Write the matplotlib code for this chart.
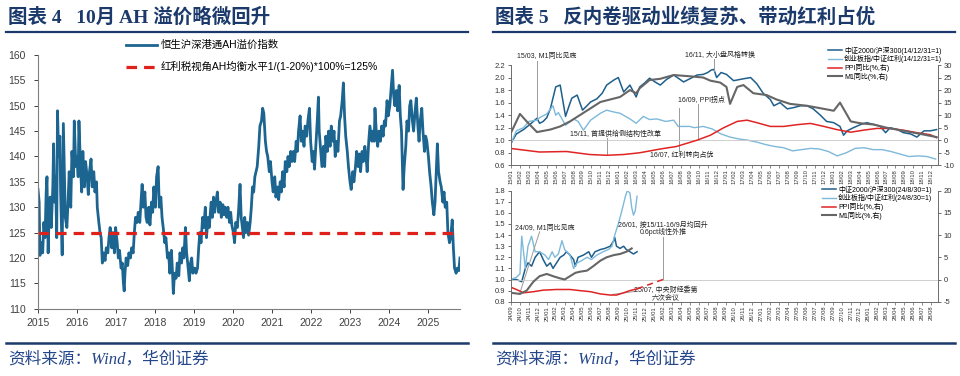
import matplotlib
matplotlib.use("Agg")
import matplotlib.pyplot as plt
from matplotlib.lines import Line2D

plt.rcParams['font.family'] = ['Liberation Sans', 'Noto Sans CJK SC']
plt.rcParams['axes.unicode_minus'] = False

# ---------------------------------------------------------------------------
# Data
# ---------------------------------------------------------------------------
# Figure 4: Hang Seng AH premium index (decimal year, value)
ah_t = [2015.00, 2015.03, 2015.05, 2015.09, 2015.12, 2015.15, 2015.18, 2015.21, 2015.23, 2015.26,
        2015.28, 2015.31, 2015.34, 2015.38, 2015.40, 2015.43, 2015.45, 2015.48, 2015.50, 2015.53,
        2015.56, 2015.58, 2015.61, 2015.62, 2015.65, 2015.68, 2015.70, 2015.74, 2015.77, 2015.80,
        2015.84, 2015.87, 2015.91, 2015.93, 2015.97, 2016.00, 2016.03, 2016.05, 2016.09, 2016.12,
        2016.15, 2016.19, 2016.22, 2016.26, 2016.29, 2016.32, 2016.36, 2016.39, 2016.43, 2016.46,
        2016.50, 2016.52, 2016.56, 2016.59, 2016.62, 2016.65, 2016.68, 2016.72, 2016.75, 2016.79,
        2016.82, 2016.85, 2016.89, 2016.92, 2016.96, 2016.99, 2017.03, 2017.06, 2017.09, 2017.13,
        2017.16, 2017.19, 2017.21, 2017.23, 2017.26, 2017.30, 2017.33, 2017.37, 2017.40, 2017.44,
        2017.47, 2017.50, 2017.54, 2017.57, 2017.61, 2017.64, 2017.67, 2017.70, 2017.74, 2017.77,
        2017.80, 2017.84, 2017.87, 2017.91, 2017.94, 2017.97, 2018.01, 2018.04, 2018.08, 2018.11,
        2018.15, 2018.18, 2018.21, 2018.25, 2018.28, 2018.32, 2018.35, 2018.38, 2018.42, 2018.45,
        2018.47, 2018.50, 2018.54, 2018.57, 2018.61, 2018.64, 2018.68, 2018.71, 2018.74, 2018.78,
        2018.81, 2018.85, 2018.88, 2018.91, 2018.94, 2018.97, 2019.02, 2019.05, 2019.09, 2019.12,
        2019.15, 2019.18, 2019.22, 2019.25, 2019.29, 2019.32, 2019.36, 2019.39, 2019.44, 2019.47,
        2019.50, 2019.53, 2019.56, 2019.60, 2019.63, 2019.67, 2019.70, 2019.74, 2019.77, 2019.80,
        2019.84, 2019.87, 2019.91, 2019.94, 2019.97, 2020.01, 2020.04, 2020.07, 2020.11, 2020.14,
        2020.18, 2020.21, 2020.24, 2020.27, 2020.30, 2020.33, 2020.37, 2020.40, 2020.44, 2020.47,
        2020.50, 2020.53, 2020.56, 2020.62, 2020.66, 2020.69, 2020.73, 2020.76, 2020.79, 2020.83,
        2020.86, 2020.89, 2020.93, 2020.96, 2021.00, 2021.03, 2021.07, 2021.10, 2021.14, 2021.17,
        2021.21, 2021.24, 2021.27, 2021.31, 2021.34, 2021.38, 2021.41, 2021.44, 2021.48, 2021.51,
        2021.55, 2021.58, 2021.62, 2021.65, 2021.68, 2021.72, 2021.75, 2021.79, 2021.82, 2021.85,
        2021.89, 2021.92, 2021.96, 2021.99, 2022.03, 2022.06, 2022.09, 2022.13, 2022.16, 2022.19,
        2022.21, 2022.25, 2022.28, 2022.32, 2022.35, 2022.38, 2022.42, 2022.45, 2022.49, 2022.52,
        2022.56, 2022.59, 2022.62, 2022.66, 2022.69, 2022.73, 2022.76, 2022.80, 2022.83, 2022.86,
        2022.89, 2022.93, 2022.96, 2023.00, 2023.03, 2023.07, 2023.10, 2023.14, 2023.17, 2023.21,
        2023.24, 2023.27, 2023.31, 2023.34, 2023.38, 2023.41, 2023.44, 2023.48, 2023.51, 2023.56,
        2023.59, 2023.62, 2023.64, 2023.68, 2023.71, 2023.74, 2023.78, 2023.81, 2023.85, 2023.88,
        2023.91, 2023.95, 2023.98, 2024.02, 2024.05, 2024.09, 2024.12, 2024.15, 2024.19, 2024.22,
        2024.26, 2024.29, 2024.32, 2024.36, 2024.39, 2024.43, 2024.46, 2024.50, 2024.53, 2024.56,
        2024.60, 2024.63, 2024.67, 2024.70, 2024.74, 2024.77, 2024.80, 2024.84, 2024.87, 2024.91,
        2024.94, 2024.97, 2025.01, 2025.04, 2025.08, 2025.11, 2025.15, 2025.18, 2025.21, 2025.24,
        2025.27, 2025.31, 2025.34, 2025.38, 2025.41, 2025.44, 2025.48, 2025.51, 2025.55, 2025.58,
        2025.62, 2025.65, 2025.68, 2025.72, 2025.75, 2025.79, 2025.82]
ah_v = [133.5, 131, 120.5, 123, 121, 127, 124, 133, 136, 121,
        127, 132, 126, 134, 142.5, 131, 136, 124, 149, 140,
        144, 133, 124, 120.6, 146.5, 135, 128, 126, 131, 137,
        130, 141, 136, 147, 138, 140, 136, 147, 138, 133,
        141, 134, 139, 136, 132.5, 137, 139.5, 134, 137, 133,
        135, 130, 127, 125, 124, 119, 121, 119.5, 122, 121,
        124, 126, 122, 125, 121, 126, 123, 120, 121.5, 118,
        119, 115, 113.5, 117, 120, 118.5, 121, 120, 122, 121,
        125, 128, 127, 129, 127, 131, 134.5, 130, 133, 128,
        127, 130, 126.5, 131, 129, 134, 130, 136, 138, 130,
        132, 128, 126, 123, 124, 120, 121, 117, 121.5, 117,
        113, 117, 116, 119, 116.5, 121, 119, 122, 120, 126,
        121, 118, 115.5, 119, 120, 117, 118, 117, 118, 122,
        125, 123, 128, 126, 130, 124, 128, 126, 131, 128,
        132, 129, 131, 133, 129, 131, 128, 130.5, 128.5, 130,
        128, 130, 127, 129, 126.5, 125, 123, 127, 126, 129,
        134.5, 128, 126, 124, 128, 125, 127, 124.5, 127, 130,
        134, 133, 136, 138, 142, 146, 147, 149.5, 148.5, 143,
        141, 140, 137, 139, 135, 133, 136, 132, 134, 131.5,
        135, 133, 137, 134, 139, 137, 140, 138, 141, 139,
        141, 139, 143, 141, 145, 148, 143, 145, 142, 146,
        144, 147, 149.5, 143, 139, 141, 137.5, 143, 147, 151.7,
        145, 141, 138, 142, 138, 144, 141, 145, 142, 146,
        143, 145, 140, 143, 141, 147, 148, 151, 154.5, 148,
        144, 141, 138, 135, 133.5, 137, 135, 138, 141, 138,
        140.5, 137, 141, 139, 142, 140, 137, 143, 146, 143,
        145, 143, 149.5, 144, 142, 145, 143, 146, 144, 147,
        146, 151, 148, 150, 153, 157, 152, 150, 153, 149,
        154, 148, 145, 133.5, 138, 142, 147, 145, 150, 151,
        147, 145, 149, 151.5, 146, 143, 147, 149.5, 145, 141,
        144, 143, 140, 137, 134, 131, 128.5, 131, 137, 142.5,
        137, 135, 134, 131, 133, 130, 131, 125, 123, 124,
        127.5, 122, 118, 117, 118, 117.5, 120]
ah_years = list(range(2015, 2026))
ah_yticks = list(range(110, 161, 5))
fair_level = 125

# Figure 5 (top): months since 2015-01
top_labels = [f"{y}/{m:02d}" for y in range(15, 19) for m in range(1, 13)]
top_csi_m = [0, 0.6, 1.4, 2.1, 2.9, 3.2, 3.6, 4.0, 4.4, 5.0, 5.5, 6.1, 6.5, 6.8, 7.4, 8.0, 8.5,
             8.9, 9.6, 10.2, 10.7, 11.5, 12.0, 12.6, 13.3, 14.0, 14.4, 15.0, 15.5, 16.1, 16.7,
             17.4, 18.2, 18.8, 19.3, 20.0, 20.8, 21.5, 22.0, 22.4, 22.7, 23.0, 23.5,
             24.1, 24.9, 26.0, 26.8, 27.5, 28.2, 29.0, 29.4, 30.1, 30.9, 31.6, 32.4, 33.1, 33.8,
             34.6, 35.3, 36.1, 36.8, 37.2, 37.6, 38.3, 39.1, 39.8, 40.6, 41.3, 41.9, 42.4, 43.2,
             43.9, 44.7, 45.4, 46.2, 46.9, 47.6]
top_csi_v = [0.95, 1.1, 1.17, 1.25, 1.35, 1.27, 1.3, 1.36, 1.5, 1.85, 1.88, 1.38, 1.55, 1.67,
             1.72, 1.48, 1.55, 1.61, 1.66, 1.75, 1.88, 1.96, 2.0, 1.77, 1.88, 1.69, 1.85, 1.92,
             1.99, 1.93, 1.88, 1.97, 2.04, 1.98, 1.93, 1.98, 2.04, 2.05, 2.08, 2.12, 2.13,
             2.0, 2.08, 2.05, 1.95, 1.98, 2.0, 1.9, 1.75, 1.65, 1.55, 1.6, 1.5, 1.52, 1.55, 1.55,
             1.5, 1.4, 1.3, 1.28, 1.22, 1.08, 1.15, 1.2, 1.25, 1.28, 1.25, 1.22, 1.12, 1.2, 1.17,
             1.12, 1.1, 1.05, 1.15, 1.15, 1.17]
top_gem_m = [0, 0.6, 1.4, 2.0, 2.9, 3.2, 4.0, 4.7, 5.0, 5.3, 6.1, 7.0, 7.5, 8.1, 8.9, 10.0,
             10.7, 11.5, 12.2, 13.3, 14.0, 14.8, 15.5, 16.3, 17.3, 18.2, 18.7, 19.3, 20.0, 20.5,
             21.5, 22.5, 23.5, 24.5, 25.5, 26.5, 27.5, 28.5, 29.5, 30.5, 31.5,
             32.5, 33.5, 34.5, 35.5, 36.5, 37.5, 38.5, 39.5, 40.5, 41.5, 42.5, 43.5, 44.5, 45.5,
             46.5, 47.5]
top_gem_v = [0.95, 1.15, 1.2, 1.3, 1.32, 1.36, 1.42, 1.55, 1.4, 1.44, 1.24, 1.34, 1.3, 1.16,
             1.32, 1.43, 1.48, 1.45, 1.43, 1.34, 1.27, 1.38, 1.33, 1.34, 1.3, 1.32, 1.22, 1.22,
             1.22, 1.2, 1.22, 1.18, 1.1, 1.05, 1.02, 1.0, 0.97, 0.93, 0.9, 0.88,
             0.83, 0.85, 0.87, 0.86, 0.82, 0.75, 0.8, 0.87, 0.88, 0.85, 0.85, 0.82, 0.78, 0.74,
             0.75, 0.74, 0.7]
top_ppi_m = [0, 3.2, 6.2, 8.8, 10.7, 12.6, 14.4, 16.7, 18.5, 20.8, 22.3, 23.8, 25.3, 26.4, 27.5,
             29.0, 30.5, 32.0, 33.5, 35.0, 36.5, 38.0, 39.4, 40.9, 42.4, 43.9, 45.4, 46.9, 47.6]
top_ppi_v = [-3.3, -4.7, -4.5, -5.7, -6.0, -5.7, -5.0, -3.5, -2.5, 0.0, 2.0, 5.0, 7.5, 8.0, 7.0,
             5.5, 5.5, 6.2, 6.7, 5.5, 4.2, 3.2, 4.0, 4.7, 4.7, 4.0, 3.0, 2.2, 1.0]
top_m1_m = [0, 1.0, 1.75, 2.9, 4.4, 5.5, 6.6, 7.7, 8.8, 10.0, 11.1, 12.2, 13.3, 14.0, 14.4, 15.5,
            16.7, 18.2, 20.0, 21.5, 22.3, 23.4, 24.1, 24.5, 25.3, 26.0, 27.1, 28.6, 29.7, 31.2,
            33.1, 35.0, 36.1, 36.8, 38.0, 39.1, 40.6, 42.0, 43.9, 45.8, 47.6]
top_m1_v = [3.0, 10.5, 7.5, 3.25, 4.25, 5.5, 7.5, 10.0, 12.5, 15.25, 16.25, 17.25, 20.0, 18.75,
            20.75, 24.0, 24.5, 26.0, 25.5, 25.0, 23.75, 23.0, 21.25, 14.5, 21.25, 22.0, 18.75,
            18.0, 16.25, 14.5, 13.75, 12.5, 11.75, 15.0, 7.5, 6.75, 6.25, 5.0, 3.75, 2.5, 1.25]

# Figure 5 (bottom): months since 2024-09
bot_labels = ([f"24/{m:02d}" for m in range(9, 13)] +
              [f"{y}/{m:02d}" for y in range(25, 28) for m in range(1, 13)] +
              [f"28/{m:02d}" for m in range(1, 9)])
bot_csi_m = [0, 0.6, 1.2, 1.6, 1.9, 2.3, 2.7, 3.2, 3.6, 4.0, 4.4, 4.7, 5.1, 5.5, 5.9, 6.2, 6.6,
             7.0, 7.2, 7.5, 8.1, 8.7, 9.0, 9.4, 10.0, 10.5, 11.1, 11.5, 11.6, 11.8, 12.2, 12.6,
             12.9, 13.3, 13.7, 14.1]
bot_csi_v = [1.0, 1.0, 0.98, 1.1, 1.15, 1.12, 1.2, 1.25, 1.18, 1.12, 1.15, 1.1, 1.15, 1.2, 1.22,
             1.25, 1.22, 1.18, 1.12, 1.2, 1.22, 1.25, 1.2, 1.25, 1.27, 1.28, 1.3, 1.35, 1.38, 1.3,
             1.28, 1.3, 1.27, 1.25, 1.23, 1.25]
bot_gem_m = [0, 0.6, 1.0, 1.2, 1.4, 1.6, 1.9, 2.3, 2.7, 3.2, 3.8, 4.2, 4.6, 4.9, 5.3, 5.7, 6.0,
             6.6, 7.0, 7.4, 7.9, 8.5, 9.0, 9.6, 10.3, 10.9, 11.3, 11.6, 12.0, 12.4, 12.8, 13.0,
             13.3, 13.5, 13.7, 13.9, 14.1]
bot_gem_v = [1.0, 1.02, 1.05, 1.39, 1.25, 1.1, 1.3, 1.39, 1.25, 1.25, 1.22, 1.18, 1.25, 1.2, 1.23,
             1.35, 1.27, 1.22, 1.1, 1.15, 1.17, 1.2, 1.18, 1.22, 1.25, 1.27, 1.3, 1.4, 1.5, 1.62,
             1.75, 1.8, 1.78, 1.65, 1.58, 1.62, 1.75]
bot_m1_m = [0, 1.0, 1.75, 2.5, 3.2, 4.0, 4.7, 5.5, 6.0, 6.6, 7.2, 7.7, 8.5, 9.2, 10.0, 10.7, 11.5,
            12.2, 12.9, 13.5]
bot_m1_v = [-3.0, -3.25, -2.5, -0.5, 0.75, 1.25, 0.75, 0.25, 0.0, 0.75, 1.5, 1.75, 2.0, 3.0, 4.25,
            5.0, 5.5, 5.75, 6.25, 7.0]
bot_ppi_m = [0, 0.6, 1.4, 2.5, 3.6, 5.1, 6.6, 7.7, 8.9, 10.0, 11.1, 11.8, 12.6, 13.3, 14.1]
bot_ppi_v = [-1.75, -2.25, -3.0, -2.75, -2.4, -2.25, -2.25, -2.5, -2.75, -3.25, -3.5, -3.5, -3.0,
             -2.5, -2.1]
ppi_proj_m = [14.1, 17.0]
ppi_proj_v = [-2.1, 0.0]

# ---------------------------------------------------------------------------
# Style
# ---------------------------------------------------------------------------
NAVY = "#1b3a6b"
AH_BLUE = "#1d6591"
RED = "#e0201b"
DARK = "#1f5f8c"
LIGHT = "#7db9da"
PPI_RED = "#e02424"
GREY = "#666666"
CJK = ['Liberation Sans', 'Noto Sans CJK SC']
TITLE = ['Liberation Serif', 'Noto Sans CJK SC']
W, H = 960, 376


def box(x0, y0, x1, y1):
    return [x0 / W, 1 - y1 / H, (x1 - x0) / W, (y1 - y0) / H]


def fx(x):
    return x / W


def fy(y):
    return 1 - y / H


fig = plt.figure(figsize=(9.6, 3.76), dpi=100)

# headers, rules and sources
fig.text(fx(8), fy(17), "图表 4   10月 AH 溢价略微回升", family=TITLE, fontweight="bold",
         fontsize=14, color=NAVY, va="center")
fig.text(fx(495), fy(17), "图表 5   反内卷驱动业绩复苏、带动红利占优", family=TITLE,
         fontweight="bold", fontsize=14, color=NAVY, va="center")
for x0, x1 in [(6, 468), (493, 955)]:
    fig.add_artist(Line2D([fx(x0), fx(x1)], [fy(31.5)] * 2, color=NAVY, lw=1.6))
    fig.add_artist(Line2D([fx(x0), fx(x1)], [fy(342.5)] * 2, color=NAVY, lw=1.8))
for x0 in (8, 495):
    fig.text(fx(x0), fy(359), "资料来源：Wind，华创证券", family=TITLE, style="italic",
             fontsize=12, color="#24468a", va="center")

# ---------------------------------------------------------------------------
# Figure 4
# ---------------------------------------------------------------------------
ax = fig.add_axes(box(38, 55, 460, 308.7))
ax.plot(ah_t, ah_v, color=AH_BLUE, lw=2.0, label="恒生沪深港通AH溢价指数")
ax.plot([ah_t[0], ah_t[-1]], [fair_level, fair_level], color=RED, lw=2.3, dashes=(3.3, 2.2),
        label="红利税视角AH均衡水平1/(1-20%)*100%=125%")
ax.set_xlim(2015, 2025.82)
ax.set_ylim(110, 160)
ax.set_xticks(ah_years)
ax.set_yticks(ah_yticks)
for s in ("top", "right"):
    ax.spines[s].set_visible(False)
for s in ("left", "bottom"):
    ax.spines[s].set_color("#7f7f7f")
    ax.spines[s].set_linewidth(0.8)
ax.tick_params(labelsize=7.5, colors="#404040", length=3, width=0.7, pad=4)
ax.tick_params(axis="y", pad=6)
ax.legend(loc="upper left", bbox_to_anchor=(fx(126), fy(40)), bbox_transform=fig.transFigure,
          frameon=False, fontsize=7.5, handlelength=3.0, labelspacing=1.05, borderaxespad=0,
          borderpad=0, handletextpad=0.35)

# ---------------------------------------------------------------------------
# Figure 5
# ---------------------------------------------------------------------------
def style_pair(a, b, labels, ylims, yticks, rticks):
    a.set_xlim(0, 47.76)
    a.set_ylim(*ylims)
    a.set_yticks(yticks)
    a.set_yticklabels([f"{v:.1f}" for v in yticks])
    b.set_ylim(rticks[0], rticks[-1])
    b.set_yticks(rticks)
    a.set_xticks(range(len(labels)))
    a.set_xticklabels(labels, rotation=90)
    for s in ("top",):
        a.spines[s].set_visible(False)
        b.spines[s].set_visible(False)
    for s in ("left", "bottom", "right"):
        a.spines[s].set_color("#6f6f6f")
        b.spines[s].set_color("#6f6f6f")
        a.spines[s].set_linewidth(0.7)
        b.spines[s].set_linewidth(0.7)
    a.tick_params(axis="y", labelsize=5.5, length=2, width=0.5, pad=2, colors="#333333")
    b.tick_params(axis="y", labelsize=5.5, length=2, width=0.5, pad=2, colors="#333333")
    a.tick_params(axis="x", labelsize=4.2, length=2, width=0.4, pad=1, colors="#333333")
    b.axhline(0, color="#c8c8c8", lw=0.6, zorder=0)


def add_legend(a, handles, x, y):
    a.legend(handles=handles, loc="upper left", bbox_to_anchor=(fx(x), fy(y)),
             bbox_transform=fig.transFigure, frameon=False, fontsize=5, handlelength=2.0,
             labelspacing=0.08, borderaxespad=0, borderpad=0, handletextpad=0.3)


def note(a, text, x, y, ha="left"):
    a.text(x, y, text, fontsize=5, ha=ha, va="center", color="#222222", family=CJK,
           clip_on=False)


def leader(a, xs, ys):
    a.plot(xs, ys, color="#9a9a9a", lw=0.7, clip_on=False)


# top panel
at = fig.add_axes(box(511, 65, 938, 165.3))
bt = at.twinx()
h1, = at.plot(top_csi_m, top_csi_v, color=DARK, lw=1.1, label="中证2000/沪深300(14/12/31=1)")
h2, = at.plot(top_gem_m, top_gem_v, color=LIGHT, lw=1.0, label="创业板指/中证红利(14/12/31=1)")
h3, = bt.plot(top_ppi_m, top_ppi_v, color=PPI_RED, lw=1.1, label="PPI同比(%,右)")
h4, = bt.plot(top_m1_m, top_m1_v, color=GREY, lw=1.5, label="M1同比(%,右)")
style_pair(at, bt, top_labels, (0.6, 2.2), [0.6, 0.8, 1.0, 1.2, 1.4, 1.6, 1.8, 2.0, 2.2],
           list(range(-10, 31, 5)))
add_legend(bt, [h1, h2, h3, h4], 828, 46.5)

note(at, "15/03, M1同比见底", 0.67, 2.33)
leader(at, [2.9, 2.9], [2.27, 1.36])
note(at, "16/11, 大小盘风格转换", 19.5, 2.36)
leader(at, [22.7, 22.7], [2.3, 2.1])
note(at, "16/09, PPI拐点", 18.7, 1.63)
leader(at, [20.9, 20.9], [1.58, 1.0])
note(at, "15/11, 首提供给侧结构性改革", 6.6, 1.1)
leader(at, [10.7, 10.7], [1.03, 0.76])
note(at, "16/07, 红利转向占优", 15.5, 0.75)
leader(at, [18.8, 18.8], [1.51, 0.83])

# bottom panel
ab = fig.add_axes(box(511, 190.7, 938, 301.7))
bb = ab.twinx()
g1, = ab.plot(bot_csi_m, bot_csi_v, color=DARK, lw=1.1, label="中证2000/沪深300(24/8/30=1)")
g2, = ab.plot(bot_gem_m, bot_gem_v, color=LIGHT, lw=1.0, label="创业板指/中证红利(24/8/30=1)")
g3, = bb.plot(bot_ppi_m, bot_ppi_v, color=PPI_RED, lw=1.1, label="PPI同比(%,右)")
bb.plot(ppi_proj_m, ppi_proj_v, color=PPI_RED, lw=1.1, dashes=(4, 3))
g4, = bb.plot(bot_m1_m, bot_m1_v, color=GREY, lw=1.5, label="M1同比(%,右)")
style_pair(ab, bb, bot_labels, (0.8, 1.8), [0.8, 0.9, 1.0, 1.1, 1.2, 1.3, 1.4, 1.5, 1.6, 1.7, 1.8],
           list(range(-5, 21, 5)))
add_legend(bb, [g1, g2, g3, g4], 822, 185.5)

note(ab, "24/09, M1同比见底", 0.45, 1.46)
leader(ab, [3.2, 1.0], [1.43, 0.88])
note(ab, "26/01, 按15/11-16/9月均回升", 17.0, 1.49, ha="center")
note(ab, "0.6pct线性外推", 17.0, 1.43, ha="center")
leader(ab, [17.0, 17.0], [1.38, 1.0])
note(ab, "25/07, 中央财经委第", 17.3, 0.905, ha="center")
note(ab, "六次会议", 17.3, 0.835, ha="center")
leader(ab, [14.1, 11.3], [0.895, 0.865])

fig.savefig("out.png", dpi=100)
